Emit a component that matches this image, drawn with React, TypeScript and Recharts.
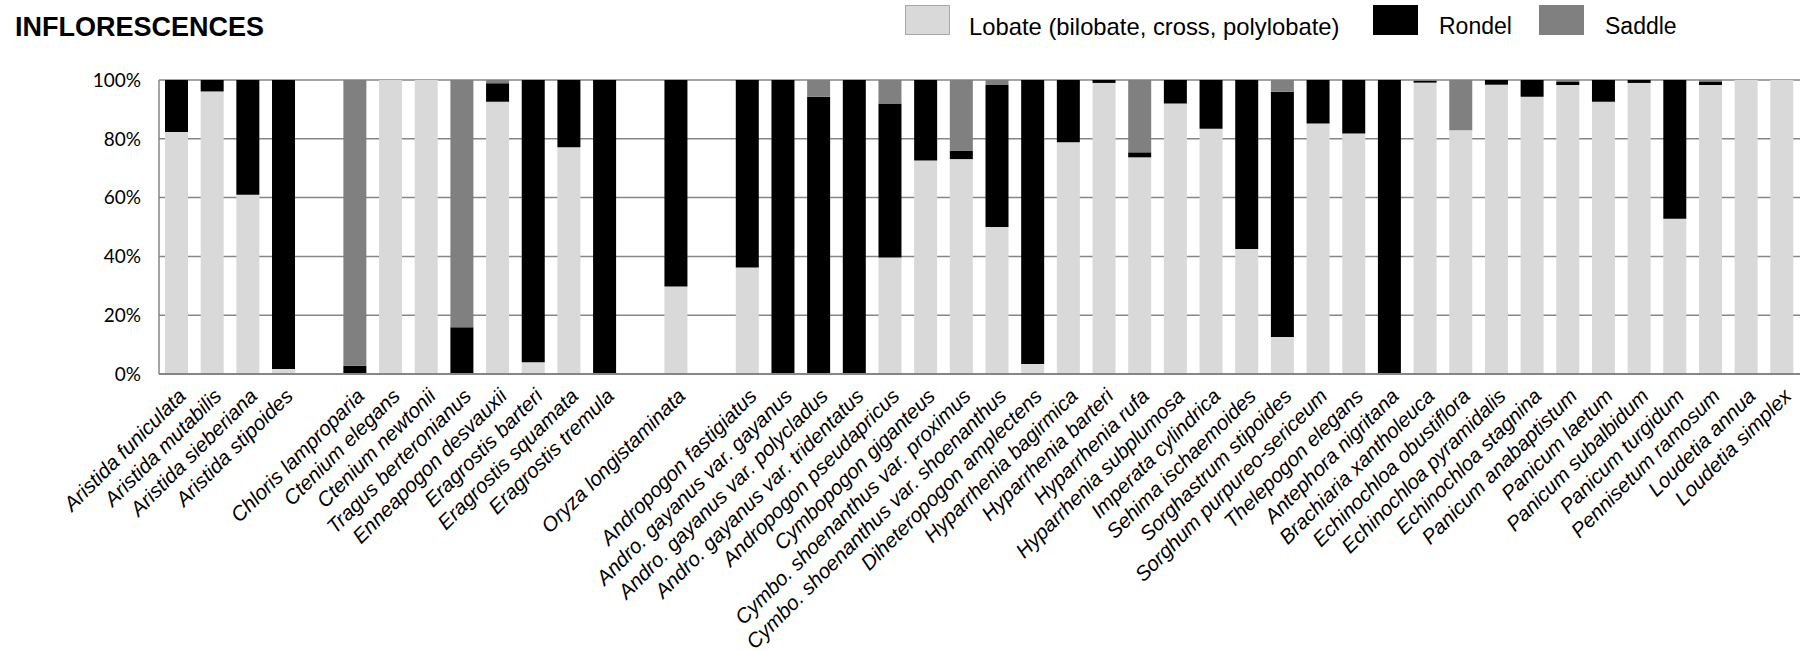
import React from 'react';
import { BarChart, Bar, XAxis, YAxis, CartesianGrid, Legend } from 'recharts';

const categories = [
  'Aristida funiculata', 'Aristida mutabilis', 'Aristida sieberiana', 'Aristida stipoides', '',
  'Chloris lamproparia', 'Ctenium elegans', 'Ctenium newtonii', 'Tragus berteronianus', 'Enneapogon desvauxii',
  'Eragrostis barteri', 'Eragrostis squamata', 'Eragrostis tremula', '', 'Oryza longistaminata', '',
  'Andropogon fastigiatus', 'Andro. gayanus var. gayanus', 'Andro. gayanus var. polycladus', 'Andro. gayanus var. tridentatus',
  'Andropogon pseudapricus', 'Cymbopogon giganteus', 'Cymbo. shoenanthus var. proximus', 'Cymbo. shoenanthus var. shoenanthus',
  'Diheteropogon amplectens', 'Hyparrhenia bagirmica', 'Hyparrhenia barteri', 'Hyparrhenia rufa', 'Hyparrhenia subplumosa',
  'Imperata cylindrica', 'Sehima ischaemoides', 'Sorghastrum stipoides', 'Sorghum purpureo-sericeum', 'Thelepogon elegans',
  'Antephora nigritana', 'Brachiaria xantholeuca', 'Echinochloa obustiflora', 'Echinochloa pyramidalis', 'Echinochloa stagnina',
  'Panicum anabaptistum', 'Panicum laetum', 'Panicum subalbidum', 'Panicum turgidum', 'Pennisetum ramosum',
  'Loudetia annua', 'Loudetia simplex',
];

const lobate = [
  82.3, 96.1, 61, 1.7, 0,
  0, 100, 100, 0, 92.6,
  4, 77.1, 0, 0, 29.8, 0,
  36.2, 0, 0, 0,
  39.6, 72.6, 73.1, 50.0,
  3.4, 78.8, 99.0, 73.7, 92.0,
  83.4, 42.5, 12.6, 85.2, 81.8,
  0, 99.1, 82.9, 98.4, 94.3,
  98.3, 92.6, 99.0, 52.8, 98.3,
  100, 100,
];

const rondel = [
  17.7, 3.9, 39, 98.3, 0,
  2.8, 0, 0, 15.9, 6.3,
  96, 22.9, 100, 0, 70.2, 0,
  63.8, 100, 94.3, 100,
  52.4, 27.4, 2.9, 48.3,
  96.6, 21.2, 1.0, 1.7, 8.0,
  16.6, 57.5, 83.4, 14.8, 18.2,
  100, 0.6, 0, 1.6, 5.7,
  1.2, 7.4, 1.0, 47.2, 1.2,
  0, 0,
];

const saddle = [
  0, 0, 0, 0, 0,
  97.2, 0, 0, 84.1, 1.1,
  0, 0, 0, 0, 0, 0,
  0, 0, 5.7, 0,
  8.0, 0, 24.0, 1.7,
  0, 0, 0, 24.6, 0,
  0, 0, 4.0, 0, 0,
  0, 0.3, 17.1, 0, 0,
  0.5, 0, 0, 0, 0.5,
  0, 0,
];

const yTicks = [0, 20, 40, 60, 80, 100];

const seriesNames = ['Lobate (bilobate, cross, polylobate)', 'Rondel', 'Saddle'];
const seriesColors = ['#d9d9d9', '#000000', '#808080'];

const data = categories.map((name, i) => ({
  name,
  lobate: lobate[i],
  rondel: rondel[i],
  saddle: saddle[i],
}));

const XTick = (props: any) => {
  const { x, y, payload } = props;
  return (
    <g transform={`translate(${x},${y})`}>
      <text
        transform="rotate(-45)"
        textAnchor="end"
        dy="0.71em"
        fontFamily="'Liberation Sans', Arial, sans-serif"
        fontStyle="italic"
        fontSize={20.6}
        fill="#000"
      >
        {payload.value}
      </text>
    </g>
  );
};

const legendX = [905, 1373, 1539];

const LegendContent = (props: any) => {
  const { payload } = props;
  return (
    <div style={{ position: 'relative', width: 1803, height: 45 }}>
      {(payload || []).map((p: any, i: number) => (
        <div key={i} style={{ position: 'absolute', left: legendX[i], top: 5, display: 'flex', alignItems: 'flex-end' }}>
          <div
            style={{
              width: 45,
              height: 30,
              boxSizing: 'border-box',
              background: p.color,
              border: i === 0 ? '1px solid #a8a8a8' : 'none',
            }}
          />
          <span
            style={{
              marginLeft: i === 0 ? 19 : 21,
              fontFamily: "'Liberation Sans', Arial, sans-serif",
              fontSize: i === 0 ? 23.8 : 23,
              lineHeight: '23px',
              color: '#000',
              whiteSpace: 'nowrap',
              position: 'relative',
              top: 3,
            }}
          >
            {p.value}
          </span>
        </div>
      ))}
    </div>
  );
};

export default function App() {
  return (
    <div style={{ position: 'absolute', left: 0, top: 0, width: 1803, height: 651, background: '#fff' }}>
      <div
        style={{
          position: 'absolute',
          left: 15,
          top: 14,
          fontFamily: "'Liberation Sans', Arial, sans-serif",
          fontWeight: 'bold',
          fontSize: 27,
          lineHeight: '26px',
          color: '#000',
          zIndex: 2,
        }}
      >
        INFLORESCENCES
      </div>
      <BarChart
        width={1803}
        height={651}
        data={data}
        margin={{ top: 80, right: 3, left: 0, bottom: 0 }}
        barSize={23}
      >
        <CartesianGrid vertical={false} stroke="#868686" strokeWidth={1.5} />
        <XAxis
          dataKey="name"
          interval={0}
          tickLine={false}
          axisLine={{ stroke: '#868686', strokeWidth: 2 }}
          height={277}
          tickSize={0}
          tickMargin={13}
          tick={<XTick />}
        />
        <YAxis
          type="number"
          domain={[0, 100]}
          ticks={yTicks}
          tickFormatter={(v: number) => `${v}%`}
          tickLine={false}
          axisLine={{ stroke: '#868686', strokeWidth: 1.5 }}
          width={159}
          tickSize={0}
          tickMargin={18}
          tick={{ fontFamily: 'Lato, sans-serif', fontSize: 19, fill: '#000' }}
        />
        <Legend
          layout="horizontal"
          verticalAlign="middle"
          align="center"
          wrapperStyle={{ top: 0, left: 0, width: 1803, height: 45 }}
          content={<LegendContent />}
        />
        <Bar dataKey="lobate" name={seriesNames[0]} stackId="a" fill={seriesColors[0]} isAnimationActive={false} />
        <Bar dataKey="rondel" name={seriesNames[1]} stackId="a" fill={seriesColors[1]} isAnimationActive={false} />
        <Bar dataKey="saddle" name={seriesNames[2]} stackId="a" fill={seriesColors[2]} isAnimationActive={false} />
      </BarChart>
    </div>
  );
}
